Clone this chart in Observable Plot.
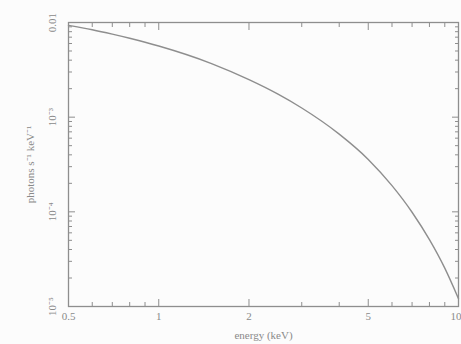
<!DOCTYPE html>
<html><head><meta charset="utf-8">
<script src="https://cdn.jsdelivr.net/npm/d3@7"></script>
<script src="https://cdn.jsdelivr.net/npm/@observablehq/plot@0.6"></script>
<style>body{margin:0;background:#fcfcfc;} svg{background:#fcfcfc;}</style>
</head><body><div id="c"></div>
<script>
const energy = [0.5, 0.6, 0.7, 0.8, 1, 1.5, 2, 2.5, 3, 4, 5, 6, 7, 8, 9, 10];
const flux = [9.33e-3, 8.38e-3, 7.53e-3, 6.81e-3, 5.64e-3, 3.68e-3, 2.49e-3, 1.75e-3, 1.25e-3, 6.62e-4, 3.58e-4, 1.89e-4, 9.9e-5, 5.08e-5, 2.54e-5, 1.21e-5];
const xMajor = [0.5, 1, 2, 5, 10];
const xMajorLabels = ["0.5", "1", "2", "5", "10"];
const xMinor = [0.6, 0.7, 0.8, 0.9, 3, 4, 6, 7, 8, 9];
const yMajor = [1e-5, 1e-4, 1e-3, 1e-2];
const yMajorLabels = ["10⁻⁵", "10⁻⁴", "10⁻³", "0.01"];
const yMinor = [];
for (const d of [1e-5, 1e-4, 1e-3]) for (let k = 2; k <= 9; k++) yMinor.push(d * k);
const xTitle = "energy (keV)";
const yTitle = "photons s⁻¹ keV⁻¹";

const data = energy.map((e, i) => ({e, f: flux[i]}));
const ink = "#8e8e8e";
const txt = "#8a8a8a";
const last = xMajor.length - 1;

const chart = Plot.plot({
  width: 461, height: 344,
  marginLeft: 68, marginRight: 3, marginTop: 22, marginBottom: 38,
  style: {fontFamily: "Liberation Serif", fontSize: "11px", color: txt, background: "#fcfcfc"},
  x: {type: "log", domain: [0.5, 10]},
  y: {type: "log", domain: [1e-5, 0.01]},
  marks: [
    Plot.frame({stroke: ink, strokeWidth: 1.3}),
    Plot.axisX(xMajor, {anchor: "bottom", tickSize: -7, stroke: ink, tickFormat: () => "", label: null}),
    Plot.axisX(xMinor, {anchor: "bottom", tickSize: -4, stroke: ink, tickFormat: () => "", label: null}),
    Plot.axisX(xMajor, {anchor: "top", tickSize: -7, stroke: ink, tickFormat: () => "", label: null}),
    Plot.axisX(xMinor, {anchor: "top", tickSize: -4, stroke: ink, tickFormat: () => "", label: null}),
    Plot.axisY(yMajor, {anchor: "left", tickSize: -7, stroke: ink, tickFormat: () => "", label: null}),
    Plot.axisY(yMinor, {anchor: "left", tickSize: -4, stroke: ink, tickFormat: () => "", label: null}),
    Plot.axisY(yMajor, {anchor: "right", tickSize: -7, stroke: ink, tickFormat: () => "", label: null}),
    Plot.axisY(yMinor, {anchor: "right", tickSize: -4, stroke: ink, tickFormat: () => "", label: null}),
    Plot.text(xMajor.slice(0, last), {x: d => d, text: (d, i) => xMajorLabels[i], frameAnchor: "bottom", dy: 13, textAnchor: "middle", fill: txt}),
    Plot.text([xMajor[last]], {x: d => d, text: () => xMajorLabels[last], frameAnchor: "bottom", dy: 13, dx: 3, textAnchor: "end", fill: txt}),
    Plot.text(yMajor, {y: d => d, text: (d, i) => yMajorLabels[i], frameAnchor: "left", dx: -16, textAnchor: "middle", rotate: -90, fill: txt}),
    Plot.text([xTitle], {text: d => d, frameAnchor: "bottom", dy: 32, textAnchor: "middle", fill: txt}),
    Plot.text([yTitle], {text: d => d, frameAnchor: "left", dx: -38, textAnchor: "middle", rotate: -90, fill: txt}),
    Plot.line(data, {x: "e", y: "f", stroke: ink, strokeWidth: 1.4, curve: "monotone-x"})
  ]
});
document.getElementById("c").appendChild(chart);
</script>
</body></html>
